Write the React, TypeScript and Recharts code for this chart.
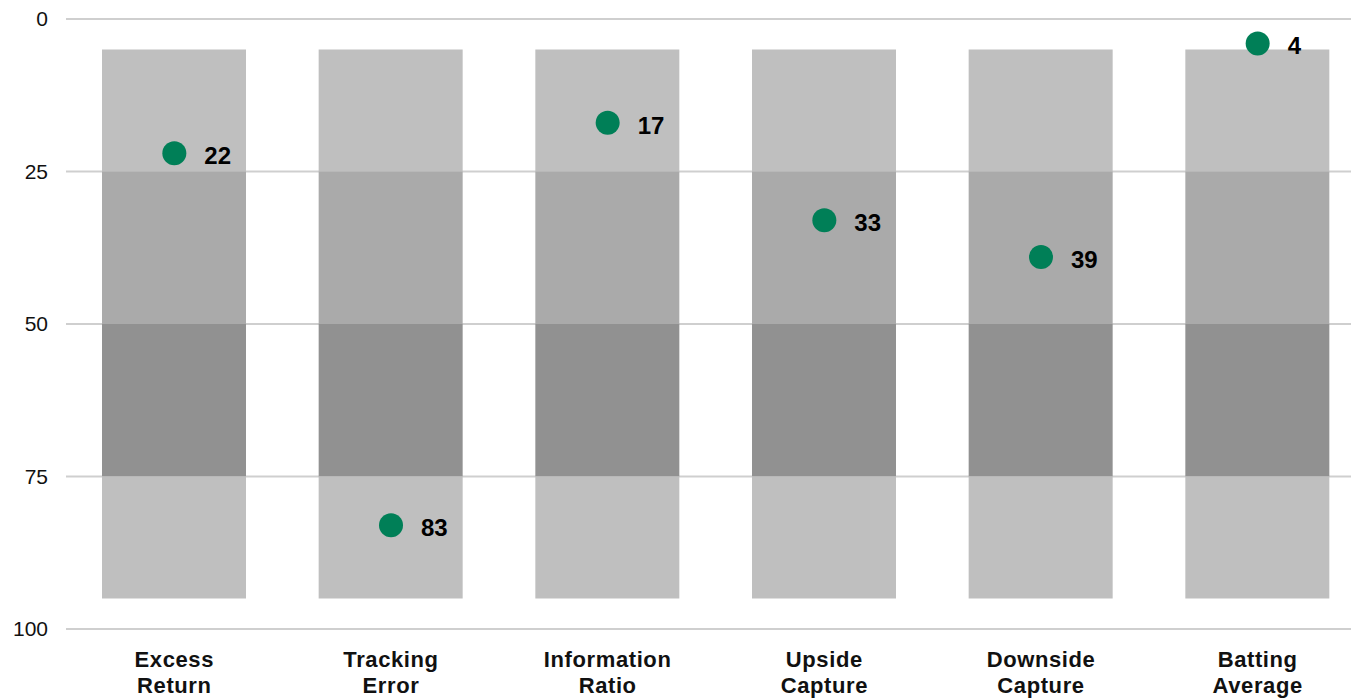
import React from 'react';
import { ComposedChart, Bar, Line, XAxis, YAxis, CartesianGrid, LabelList } from 'recharts';

const categories = ['Excess Return', 'Tracking Error', 'Information Ratio', 'Upside Capture', 'Downside Capture', 'Batting Average'];
const rankValues = [22, 83, 17, 33, 39, 4];
// quartile band stack: offset, 5-25, 25-50, 50-75, 75-95
const bandOffset = [5, 5, 5, 5, 5, 5];
const band1 = [20, 20, 20, 20, 20, 20];
const band2 = [25, 25, 25, 25, 25, 25];
const band3 = [25, 25, 25, 25, 25, 25];
const band4 = [20, 20, 20, 20, 20, 20];
const yTicks = [0, 25, 50, 75, 100];

const data = categories.map((name, i) => ({
  name,
  offset: bandOffset[i],
  b1: band1[i],
  b2: band2[i],
  b3: band3[i],
  b4: band4[i],
  value: rankValues[i],
}));

const FONT = '"Liberation Sans", Arial, sans-serif';

const XTick = (props: any) => {
  const { x, y, payload } = props;
  const words = String(payload.value).split(' ');
  return (
    <text x={x} y={y} textAnchor="middle" fontFamily={FONT} fontSize={22} fontWeight="bold" fill="#111" letterSpacing={0.6}>
      {words.map((w: string, i: number) => (
        <tspan key={i} x={x} dy={i === 0 ? 30 : 26}>{w}</tspan>
      ))}
    </text>
  );
};

const ValueLabel = (props: any) => {
  const { x, y, value } = props;
  return (
    <text x={x + 30} y={y} dy={11} fontFamily={FONT} fontSize={24} fontWeight="bold" fill="#000">
      {value}
    </text>
  );
};

const Dot = (props: any) => {
  const { cx, cy } = props;
  if (cx == null || cy == null) return null;
  return <circle cx={cx} cy={cy} r={12} fill="#007f57" />;
};

export default function App() {
  return (
    <div style={{ position: 'fixed', left: 0, top: 0, width: 1351, height: 700, overflow: 'hidden', background: '#fff' }}>
      <ComposedChart width={1366} height={720} data={data} margin={{ top: 19, right: 0, left: 0, bottom: 0 }}>
        <CartesianGrid horizontal vertical={false} stroke="#cfcfcf" strokeWidth={2} />
        <XAxis dataKey="name" axisLine={false} tickLine={false} height={91} tick={<XTick />} interval={0} />
        <YAxis
          type="number"
          domain={[0, 100]}
          ticks={yTicks}
          reversed
          width={66}
          axisLine={false}
          tickLine={false}
          tickMargin={12}
          tick={{ fontFamily: FONT, fontSize: 21, fill: '#111' }}
        />
        <Bar dataKey="offset" stackId="q" fill="transparent" barSize={144} isAnimationActive={false} />
        <Bar dataKey="b1" stackId="q" fill="#bfbfbf" barSize={144} isAnimationActive={false} />
        <Bar dataKey="b2" stackId="q" fill="#aaaaaa" barSize={144} isAnimationActive={false} />
        <Bar dataKey="b3" stackId="q" fill="#919191" barSize={144} isAnimationActive={false} />
        <Bar dataKey="b4" stackId="q" fill="#bfbfbf" barSize={144} isAnimationActive={false} />
        <Line dataKey="value" stroke="none" dot={<Dot />} activeDot={false} isAnimationActive={false}>
          <LabelList dataKey="value" content={<ValueLabel />} />
        </Line>
      </ComposedChart>
    </div>
  );
}
